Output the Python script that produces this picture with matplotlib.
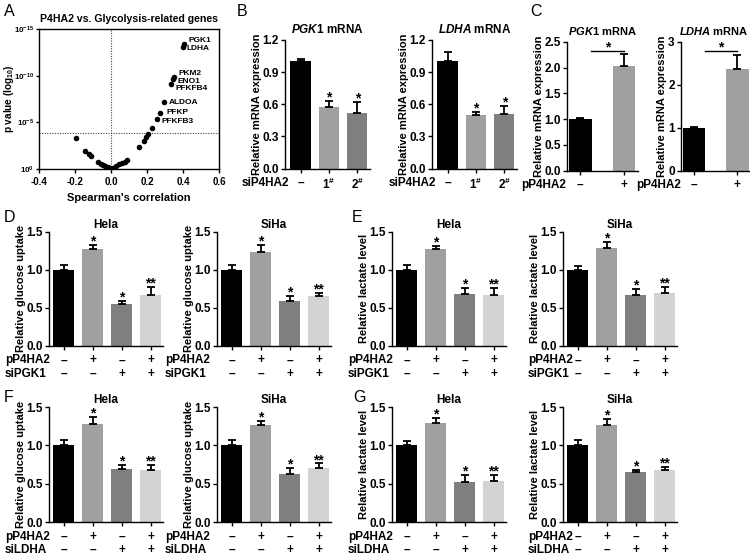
import matplotlib
matplotlib.use('Agg')
import matplotlib.pyplot as plt
import numpy as np
from matplotlib.ticker import FormatStrFormatter
from matplotlib.transforms import blended_transform_factory

plt.rcParams.update({
    'font.family': ['Liberation Sans', 'DejaVu Sans'],
    'font.weight': 'bold',
    'font.size': 8.5,
    'axes.unicode_minus': False,
    'mathtext.fontset': 'custom',
    'mathtext.rm': 'Liberation Sans:bold',
    'mathtext.bf': 'Liberation Sans:bold',
    'mathtext.it': 'Liberation Sans:italic:bold',
    'mathtext.default': 'bf',
    'axes.linewidth': 1.0,
    'xtick.major.width': 1.0, 'ytick.major.width': 1.0,
    'xtick.major.size': 3, 'ytick.major.size': 3,
    'xtick.major.pad': 3, 'ytick.major.pad': 1.5,
    'xtick.labelsize': 8.5, 'ytick.labelsize': 8.5,
    'axes.labelweight': 'bold',
    'axes.titleweight': 'bold',
})

# ---------------- data ----------------
# Panel A: Spearman correlation vs -log10(p)
spearman_r = [-0.193, -0.145, -0.125, -0.109, -0.073, -0.058, -0.044, -0.031, -0.018, -0.004,
              0.011, 0.029, 0.047, 0.062, 0.078, 0.091,
              0.156, 0.182, 0.196, 0.207, 0.227, 0.253, 0.271, 0.295, 0.336, 0.345, 0.351,
              0.398, 0.407]
neg_log10_p = [3.3, 1.95, 1.6, 1.35, 0.74, 0.57, 0.43, 0.28, 0.18, 0.07,
               0.1, 0.32, 0.5, 0.64, 0.78, 0.96,
               2.41, 3.0, 3.44, 3.72, 4.36, 5.39, 6.03, 7.16, 9.15, 9.6, 9.9,
               13.05, 13.37]
gene_labels = [''] * 21 + ['PFKFB3', 'PFKP', 'ALDOA', 'PFKFB4', 'ENO1', 'PKM2', 'LDHA', 'PGK1']
threshold_neg_log10_p = 3.9
a_xticks = [-0.4, -0.2, 0.0, 0.2, 0.4, 0.6]
a_yticks = [0, 5, 10, 15]
a_yticklabels = ['$10^{0}$', '$10^{-5}$', '$10^{-10}$', '$10^{-15}$']

# Panel B: siP4HA2 knockdown
b_groups = ['\u2013', '1$^{\\#}$', '2$^{\\#}$']
b_pgk1_mean = [1.0, 0.575, 0.52]
b_pgk1_err = [0.02, 0.055, 0.10]
b_ldha_mean = [1.0, 0.495, 0.51]
b_ldha_err = [0.085, 0.035, 0.07]
b_marks = ['', '*', '*']

# Panel C: pP4HA2 overexpression
c_groups = ['\u2013', '+']
c_pgk1_mean = [1.0, 2.04]
c_pgk1_err = [0.02, 0.22]
c_pgk1_bracket = 2.32
c_ldha_mean = [1.0, 2.37]
c_ldha_err = [0.02, 0.33]
c_ldha_bracket = 2.79

# Panels D-G
pP4HA2_row = ['\u2013', '+', '\u2013', '+']
si_row = ['\u2013', '\u2013', '+', '+']
dg_marks = ['', '*', '*', '**']
d_hela_mean = [1.0, 1.27, 0.545, 0.67]
d_hela_err = [0.065, 0.05, 0.045, 0.10]
d_siha_mean = [1.0, 1.24, 0.59, 0.65]
d_siha_err = [0.065, 0.08, 0.065, 0.04]
e_hela_mean = [1.0, 1.27, 0.68, 0.67]
e_hela_err = [0.065, 0.04, 0.085, 0.095]
e_siha_mean = [1.0, 1.28, 0.67, 0.70]
e_siha_err = [0.05, 0.08, 0.075, 0.075]
f_hela_mean = [1.0, 1.28, 0.69, 0.685]
f_hela_err = [0.065, 0.09, 0.06, 0.055]
f_siha_mean = [1.0, 1.27, 0.63, 0.71]
f_siha_err = [0.065, 0.05, 0.07, 0.055]
g_hela_mean = [1.0, 1.295, 0.53, 0.535]
g_hela_err = [0.055, 0.065, 0.085, 0.08]
g_siha_mean = [1.0, 1.26, 0.65, 0.675]
g_siha_err = [0.07, 0.09, 0.03, 0.045]

# ---------------- style ----------------
bar_colors = ['#000000', '#a0a0a0', '#7f7f7f', '#d3d3d3']
W, H = 750, 558
fig = plt.figure(figsize=(W / 100, H / 100), dpi=100)


def add_ax(left, top, right, bottom):
    return fig.add_axes([left / W, 1 - bottom / H, (right - left) / W, (bottom - top) / H])


def bar_panel(ax, means, errs, colors, marks, ylim, yticks, yfmt, xlim, width=0.72):
    x = np.arange(len(means))
    ax.bar(x, means, width=width, color=colors, edgecolor='none', zorder=2)
    ax.errorbar(x, means, yerr=[np.zeros(len(errs)), errs], fmt='none', ecolor='black',
                elinewidth=1.3, capsize=3, capthick=1.3, zorder=3)
    for xi, m, e, s in zip(x, means, errs, marks):
        if s:
            ax.annotate(s, (xi, m + e), xytext=(0, -2.5), textcoords='offset points',
                        ha='center', va='bottom', fontsize=10)
    ax.set_xlim(*xlim)
    ax.set_ylim(*ylim)
    ax.set_yticks(yticks)
    ax.yaxis.set_major_formatter(FormatStrFormatter(yfmt))
    ax.spines[['top', 'right']].set_visible(False)
    ax.set_xticks(x)
    ax.tick_params(axis='x', length=3)


def row_names(ax, text, x_px):
    tr = blended_transform_factory(fig.transFigure, ax.transAxes)
    ax.annotate(text, xy=(x_px / W, 0), xycoords=tr, xytext=(0, -6),
                textcoords='offset points', ha='left', va='top', linespacing=1.15,
                annotation_clip=False)


def letter(s, x, y):
    fig.text(x / W, 1 - y / H, s, fontsize=11.5, fontweight='normal', ha='left', va='center')


# ---------------- Panel A ----------------
axA = add_ax(39, 29, 219, 169)
axA.scatter(spearman_r, neg_log10_p, s=16, color='black', zorder=3, linewidths=0)
axA.axvline(0, color='#444444', lw=0.8, ls=(0, (1, 1.3)))
axA.axhline(threshold_neg_log10_p, color='#444444', lw=0.8, ls=(0, (1, 1.3)))
label_offsets = {'PGK1': (3, 2.8), 'LDHA': (3, -1.2), 'PKM2': (3, 2.4), 'ENO1': (3, -1.2),
                 'PFKFB4': (3, -3.6), 'ALDOA': (3.2, 0), 'PFKP': (4.6, 0), 'PFKFB3': (3.6, -1.8)}
for r, p, g in zip(spearman_r, neg_log10_p, gene_labels):
    if g:
        axA.annotate(g, (r, p), xytext=label_offsets[g], textcoords='offset points',
                     ha='left', va='center', fontsize=6)
axA.set_xlim(-0.4, 0.6)
axA.set_ylim(0, 15)
axA.set_xticks(a_xticks)
axA.xaxis.set_major_formatter(FormatStrFormatter('%.1f'))
axA.set_yticks(a_yticks)
axA.set_yticklabels(a_yticklabels)
axA.tick_params(axis='x', labelsize=7)
axA.tick_params(axis='y', labelsize=5.8, length=2.5, pad=1)
axA.set_title('P4HA2 vs. Glycolysis-related genes', fontsize=7.6, pad=5)
axA.set_xlabel("Spearman's correlation", fontsize=8, labelpad=4)
axA.set_ylabel('p value (log$_{10}$)', fontsize=7.2)
axA.yaxis.set_label_coords(-0.13, 0.5)
letter('A', 4, 11)

# ---------------- Panel B ----------------
bx = (-0.55, 2.45)
axB1 = add_ax(285, 40, 370, 168.5)
bar_panel(axB1, b_pgk1_mean, b_pgk1_err, bar_colors[:3], b_marks, (0, 1.2),
          [0, 0.3, 0.6, 0.9, 1.2], '%.1f', bx)
axB1.set_xticklabels(b_groups)
axB1.set_title('$\\mathit{PGK1}$ mRNA', fontsize=8.5, pad=5)
axB1.set_ylabel('Relative mRNA expression', fontsize=8, labelpad=0.5)
row_names(axB1, 'siP4HA2', 242)

axB2 = add_ax(432, 40, 517, 168.5)
bar_panel(axB2, b_ldha_mean, b_ldha_err, bar_colors[:3], b_marks, (0, 1.2),
          [0, 0.3, 0.6, 0.9, 1.2], '%.1f', bx)
axB2.set_xticklabels(b_groups)
axB2.set_title('$\\mathit{LDHA}$ mRNA', fontsize=8.5, pad=5)
axB2.set_ylabel('Relative mRNA expression', fontsize=8, labelpad=0.5)
row_names(axB2, 'siP4HA2', 389)
letter('B', 237, 11)

# ---------------- Panel C ----------------
cx = (-0.3, 1.32)
axC1 = add_ax(567, 42, 638, 170.5)
bar_panel(axC1, c_pgk1_mean, c_pgk1_err, bar_colors[:2], ['', ''], (0, 2.5),
          [0, 0.5, 1.0, 1.5, 2.0, 2.5], '%.1f', cx, width=0.52)
axC1.plot([0.25, 1.0], [c_pgk1_bracket] * 2, color='black', lw=1)
axC1.annotate('*', (0.625, c_pgk1_bracket), xytext=(0, -2.5), textcoords='offset points',
              ha='center', va='bottom', fontsize=10)
axC1.set_xticklabels(c_groups)
axC1.set_title('$\\mathit{PGK1}$ mRNA', fontsize=8, pad=5)
axC1.set_ylabel('Relative mRNA expression', fontsize=8, labelpad=0.5)
row_names(axC1, 'pP4HA2', 521)

axC2 = add_ax(681, 42, 750, 170.5)
bar_panel(axC2, c_ldha_mean, c_ldha_err, bar_colors[:2], ['', ''], (0, 3),
          [0, 1, 2, 3], '%d', (-0.3, 1.29), width=0.52)
axC2.plot([0.25, 1.0], [c_ldha_bracket] * 2, color='black', lw=1)
axC2.annotate('*', (0.625, c_ldha_bracket), xytext=(0, -2.5), textcoords='offset points',
              ha='center', va='bottom', fontsize=10)
axC2.set_xticklabels(c_groups)
axC2.set_title('$\\mathit{LDHA}$ mRNA', fontsize=8, pad=5, x=0.47)
axC2.set_ylabel('Relative mRNA expression', fontsize=8, labelpad=0.5)
row_names(axC2, 'pP4HA2', 636)
letter('C', 530, 11)

# ---------------- Panels D-G ----------------
dx = (-0.5, 3.43)
quad = [
    # (means, errs, left, top, bottom, title, ylabel, siRNA name, rowname x)
    (d_hela_mean, d_hela_err, 49, 231.7, 346, 'Hela', 'Relative glucose uptake', 'siPGK1', 5),
    (d_siha_mean, d_siha_err, 217, 231.7, 346, 'SiHa', 'Relative glucose uptake', 'siPGK1', 165),
    (e_hela_mean, e_hela_err, 392, 231.7, 346, 'Hela', 'Relative lactate level', 'siPGK1', 348),
    (e_siha_mean, e_siha_err, 563, 231.7, 346, 'SiHa', 'Relative lactate level', 'siPGK1', 528),
    (f_hela_mean, f_hela_err, 49, 407, 522.3, 'Hela', 'Relative glucose uptake', 'siLDHA', 5),
    (f_siha_mean, f_siha_err, 217, 407, 522.3, 'SiHa', 'Relative glucose uptake', 'siLDHA', 165),
    (g_hela_mean, g_hela_err, 392, 407, 522.3, 'Hela', 'Relative lactate level', 'siLDHA', 348),
    (g_siha_mean, g_siha_err, 563, 407, 522.3, 'SiHa', 'Relative lactate level', 'siLDHA', 528),
]
for means, errs, left, top, bottom, title, ylab, si_name, rx in quad:
    ax = add_ax(left, top, left + 114, bottom)
    bar_panel(ax, means, errs, bar_colors, dg_marks, (0, 1.5), [0, 0.5, 1.0, 1.5], '%.1f', dx)
    ax.set_xticklabels([f'{a}\n{b}' for a, b in zip(pP4HA2_row, si_row)])
    for t in ax.get_xticklabels():
        t.set_linespacing(1.15)
    ax.set_title(title, fontsize=8.5, pad=3)
    ax.set_ylabel(ylab, fontsize=8, labelpad=0.5)
    row_names(ax, f'pP4HA2\n{si_name}', rx)

letter('D', 4, 218)
letter('E', 352, 218)
letter('F', 4, 397)
letter('G', 353, 398)

fig.savefig('out.png', dpi=100)
